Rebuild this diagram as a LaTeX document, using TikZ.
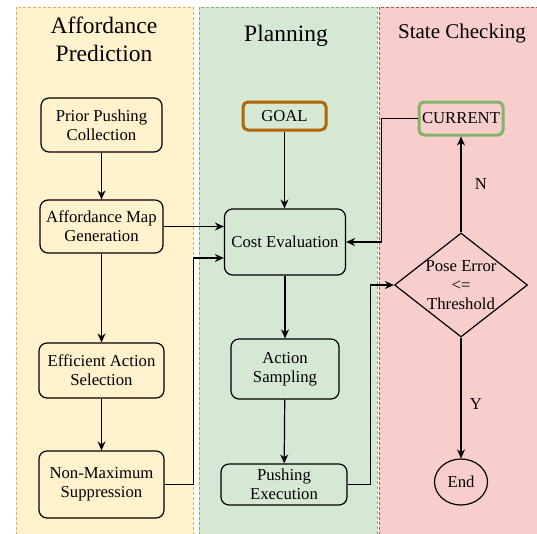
\documentclass[tikz,border=0pt]{standalone}
\usepackage{fontspec}
\setmainfont{Liberation Serif}
\usetikzlibrary{arrows.meta,shapes.geometric}

\definecolor{laneyellow}{HTML}{FFF2CC}
\definecolor{lineyellow}{HTML}{D6B656}
\definecolor{lanegreen}{HTML}{D5E8D4}
\definecolor{linegreen}{HTML}{82B366}
\definecolor{lanered}{HTML}{F8CECC}
\definecolor{linered}{HTML}{B85450}
\definecolor{goalorange}{HTML}{B46504}

\newcommand\lanetop{7}
\newcommand\lanebottom{540}

\newcommand\boxfont{\fontsize{16.7}{19}\selectfont}
\newcommand\titlefont{\fontsize{23.5}{28}\selectfont}

\tikzset{
  procbox/.style={draw, rounded corners=8pt, line width=1.2pt, align=center,
    inner sep=0pt, font=\boxfont},
  statebox/.style={draw, rounded corners=5pt, line width=3pt, align=center,
    inner sep=0pt, font=\boxfont},
  arr/.style={-{Stealth[length=9pt,width=8pt]}, line width=1.2pt},
  lane/.style={dashed, line width=0.8pt, dash pattern=on 3pt off 2pt},
  lbl/.style={font=\boxfont, inner sep=0pt}
}

\begin{document}
\begin{tikzpicture}[x=1pt, y=-1pt]
    \useasboundingbox (0,0) rectangle (537,533);

    \begin{scope}
      \foreach \xa/\xb/\fillc/\linec in {16/193/laneyellow/lineyellow, 199/377/lanegreen/linegreen, 379/545/lanered/linered} {
        \fill[fill=\fillc] (\xa,\lanetop) rectangle (\xb,\lanebottom);
        \draw[lane, draw=\linec] (\xa,\lanebottom) -- (\xa,\lanetop) -- (\xb,\lanetop) -- (\xb,\lanebottom);
      }

      \node[align=center, font=\titlefont] (titleaff) at (104,39) {Affordance\\Prediction};
      \node[font=\titlefont] (titleplan) at (286,36) {Planning};
      \node[font=\fontsize{21}{25}\selectfont] (titlestate) at (462,33) {State Checking};
    \end{scope}

    \begin{scope}
      \node[procbox, fill=laneyellow, minimum width=121pt, minimum height=54pt] (prior) at (101.5,125) {Prior Pushing\\Collection};
      \node[procbox, fill=laneyellow, minimum width=123pt, minimum height=53pt] (affmap) at (101.5,226.5) {Affordance Map\\Generation};
      \node[procbox, fill=laneyellow, minimum width=125pt, minimum height=55pt] (select) at (101.5,370.5) {Efficient Action\\Selection};
      \node[procbox, fill=laneyellow, minimum width=125pt, minimum height=67pt] (nms) at (101.5,484.5) {Non-Maximum\\Suppression};

      \draw[arr] (prior) -- (affmap);
      \draw[arr] (affmap) -- (select);
      \draw[arr] (select) -- (nms);
    \end{scope}

    \begin{scope}
      \node[statebox, draw=goalorange, minimum width=83pt, minimum height=28pt] (goal) at (284.5,116) {GOAL};
      \node[procbox, fill=lanegreen, minimum width=121pt, minimum height=66pt] (cost) at (285,242) {Cost Evaluation};
      \node[procbox, fill=lanegreen, minimum width=108pt, minimum height=60pt] (sample) at (285,369) {Action\\Sampling};
      \node[procbox, fill=lanegreen, minimum width=126pt, minimum height=41pt] (push) at (284,484.5) {Pushing\\Execution};

      \draw[arr] (goal) -- (goal |- cost.north);
      \draw[arr] (cost) -- (sample);
      \draw[arr] (sample) -- (push);
    \end{scope}

    \begin{scope}
      \node[statebox, draw=linegreen, minimum width=84pt, minimum height=33pt] (current) at (461,118.5) {CURRENT};
      \node[diamond, draw, line width=1.2pt, inner sep=0pt, minimum width=133pt, minimum height=104pt] (check) at (461,285) {};
      \node[lbl, align=center] (checktext) at (461,285.5) {Pose Error\\<=\\Threshold};
      \node[ellipse, draw, line width=1.2pt, inner sep=0pt, minimum width=53pt, minimum height=46pt, font=\boxfont] (finish) at (461,482) {End};

      \draw[arr] (check.north) -- node[lbl, xshift=20pt] (labn) {N} (current.south);
      \draw[arr] (check.south) -- node[lbl, pos=0.55, xshift=15pt] (laby) {Y} (finish.north);
    \end{scope}

    \draw[arr] (affmap.east) -- (affmap.east -| cost.west);
    \draw[arr] (nms.east) -- ++(29,0) |- ([yshift=-16pt]cost.west);
    \draw[arr] (push.east) -- ++(23,0) |- (check.west);
    \draw[arr] (current.west) -- ++(-36,0) |- (cost.east);
  \end{tikzpicture}
\end{document}
